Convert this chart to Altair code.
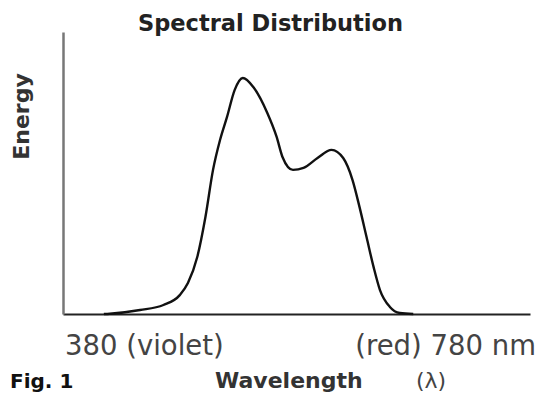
import altair as alt
import pandas as pd

# Spectral curve (wavelength in nm, relative energy 0-100)
wavelength = [415, 420, 446, 466, 480, 487, 495, 502, 508.5, 514.5, 520.5, 527, 534,
              543, 555, 563, 568, 577, 586, 598, 610, 620, 628, 634, 640, 646, 651.5,
              660, 668.5, 680]
energy = [0, 0.1, 1.4, 3.2, 6.7, 11.0, 20.2, 34.4, 51.1, 61.7, 69.9, 79.4, 83.7,
          80.5, 71.3, 62.8, 55.7, 51.1, 51.8, 55.3, 58.2, 55.3, 47.5, 37.9, 27.3,
          16.7, 8.5, 2.5, 0.35, 0]

x_label_values = [380, 780]
x_label_texts = ["380 (violet)", "(red) 780 nm"]

title_text = "Spectral Distribution"
y_title = "Energy"
x_title = "Wavelength"
lambda_text = "(λ)"
fig_text = "Fig. 1"

curve = pd.DataFrame({"wl": wavelength, "e": energy})
labels = pd.DataFrame({"wl": x_label_values, "t": x_label_texts})

x_scale = alt.Scale(domain=[380, 780], nice=False, zero=False)
y_scale = alt.Scale(domain=[0, 100], nice=False)

line = alt.Chart(curve).mark_line(
    interpolate="monotone", color="#111111", strokeWidth=2.4
).encode(
    x=alt.X("wl:Q", scale=x_scale,
            axis=alt.Axis(labels=False, ticks=False, grid=False, title=None,
                          domainColor="#222222", domainWidth=2)),
    y=alt.Y("e:Q", scale=y_scale,
            axis=alt.Axis(labels=False, ticks=False, grid=False, title=None,
                          domainColor="#777777", domainWidth=2.5)),
)

left_lab = alt.Chart(labels[labels.wl == 380]).mark_text(
    align="left", baseline="alphabetic", dx=2, font="DejaVu Sans",
    fontSize=27.5, color="#444444"
).encode(x=alt.X("wl:Q", scale=x_scale), y=alt.value(323), text="t:N")

right_lab = alt.Chart(labels[labels.wl == 780]).mark_text(
    align="right", baseline="alphabetic", dx=6, font="DejaVu Sans",
    fontSize=27.5, color="#444444"
).encode(x=alt.X("wl:Q", scale=x_scale), y=alt.value(323), text="t:N")

def txt(s, x, y, **kw):
    return alt.Chart(pd.DataFrame({"t": [s]})).mark_text(**kw).encode(
        x=alt.value(x), y=alt.value(y), text="t:N")

title = txt(title_text, 207.5, -1, align="center", baseline="alphabetic",
            font="DejaVu Sans", fontWeight="bold", fontSize=22.5, color="#222222")
ytitle = txt(y_title, -34, 84.5, align="center", baseline="alphabetic", angle=270,
             font="DejaVu Sans", fontWeight="bold", fontSize=22, color="#333333")
xtitle = txt(x_title, 152, 356, align="left", baseline="alphabetic",
             font="DejaVu Sans", fontWeight="bold", fontSize=22, color="#333333")
lam = txt(lambda_text, 368, 356, align="center", baseline="alphabetic",
          font="DejaVu Sans", fontSize=22, color="#444444")
fig = txt(fig_text, -53, 356, align="left", baseline="alphabetic",
          font="DejaVu Sans", fontWeight="bold", fontSize=20, color="#111111")

chart = alt.layer(line, left_lab, right_lab, title, ytitle, xtitle, lam, fig).properties(
    width=467, height=282,
    autosize=alt.AutoSizeParams(type="none"),
    padding={"left": 55, "top": 24, "right": 8, "bottom": 80},
).configure_view(stroke=None)

chart.save("out.html", embed_options={"renderer": "svg", "actions": False})
